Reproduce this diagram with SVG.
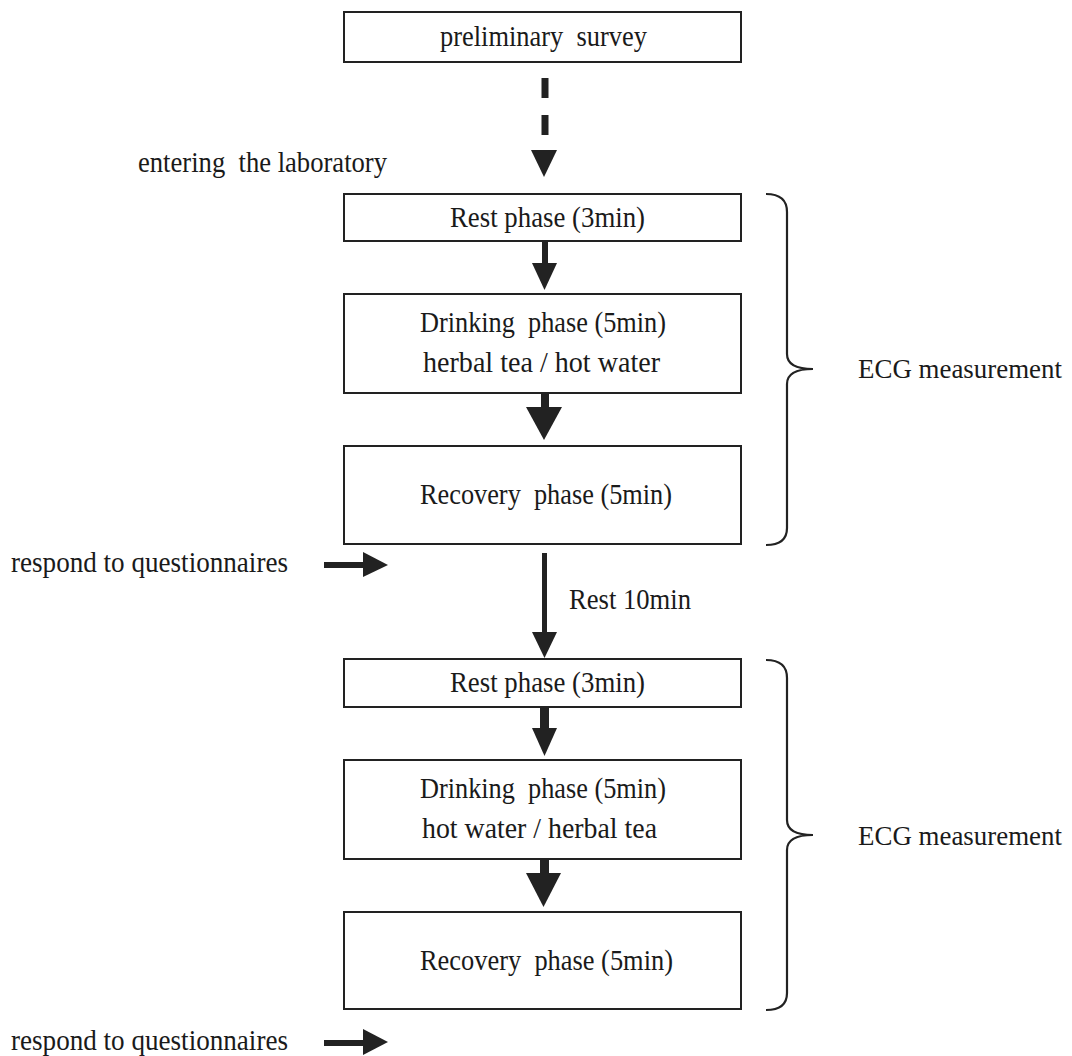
<svg xmlns="http://www.w3.org/2000/svg" width="1072" height="1056" viewBox="0 0 1072 1056">
<style>
.box{fill:#fff;stroke:#222;stroke-width:2}
.t{font-family:"Liberation Serif","Times New Roman",serif;font-size:29px;fill:#1a1a1a}
.e{font-size:27px}
.ar{fill:#222}
.br{fill:none;stroke:#222;stroke-width:2.2}
</style>
<rect width="1072" height="1056" fill="#fff"/>
<g id="n1"><rect class="box" x="344" y="12" width="397" height="50"/><text class="t" x="440" y="46" textLength="207" lengthAdjust="spacingAndGlyphs">preliminary&#160; survey</text></g>
<text class="t" x="138" y="172" textLength="249" lengthAdjust="spacingAndGlyphs">entering&#160; the laboratory</text>
<g id="n2"><rect class="box" x="344" y="194" width="397" height="47"/><text class="t" x="450" y="227" textLength="195" lengthAdjust="spacingAndGlyphs">Rest phase (3min)</text></g>
<g id="n3"><rect class="box" x="344" y="294" width="397" height="99"/><text class="t" x="420" y="332" textLength="246" lengthAdjust="spacingAndGlyphs">Drinking&#160; phase (5min)</text><text class="t" x="423" y="372" textLength="237" lengthAdjust="spacingAndGlyphs">herbal tea / hot water</text></g>
<g id="n4"><rect class="box" x="344" y="446" width="397" height="98"/><text class="t" x="420" y="504" textLength="252" lengthAdjust="spacingAndGlyphs">Recovery&#160; phase (5min)</text></g>
<g id="b1"><path class="br" d="M766,194 Q787,194 787,212 L787,354 Q787,369 813,369 Q787,369 787,384 L787,528 Q787,545 766,545"/><text class="t e" x="858" y="378" textLength="204" lengthAdjust="spacingAndGlyphs">ECG measurement</text></g>
<g id="q1"><text class="t" x="11" y="572" textLength="277" lengthAdjust="spacingAndGlyphs">respond to questionnaires</text></g>
<text class="t" x="569" y="609" textLength="122" lengthAdjust="spacingAndGlyphs">Rest 10min</text>
<g id="n5"><rect class="box" x="344" y="659" width="397" height="48"/><text class="t" x="450" y="692" textLength="195" lengthAdjust="spacingAndGlyphs">Rest phase (3min)</text></g>
<g id="n6"><rect class="box" x="344" y="760" width="397" height="99"/><text class="t" x="420" y="798" textLength="246" lengthAdjust="spacingAndGlyphs">Drinking&#160; phase (5min)</text><text class="t" x="422" y="838" textLength="235" lengthAdjust="spacingAndGlyphs">hot water / herbal tea</text></g>
<g id="n7"><rect class="box" x="344" y="912" width="397" height="97"/><text class="t" x="420" y="970" textLength="253" lengthAdjust="spacingAndGlyphs">Recovery&#160; phase (5min)</text></g>
<g id="b2"><path class="br" d="M766,660 Q787,660 787,678 L787,820 Q787,835 813,835 Q787,835 787,850 L787,993 Q787,1010 766,1010"/><text class="t e" x="858" y="845" textLength="204" lengthAdjust="spacingAndGlyphs">ECG measurement</text></g>
<g id="q2"><text class="t" x="11" y="1050" textLength="277" lengthAdjust="spacingAndGlyphs">respond to questionnaires</text></g>
<g id="connectors">
<rect class="ar" x="541.5" y="78" width="7" height="20"/>
<rect class="ar" x="541.5" y="115" width="7" height="20"/>
<polygon class="ar" points="531,150 557,150 544,177"/>
<rect class="ar" x="542" y="241" width="6" height="23"/>
<polygon class="ar" points="532,263 557,263 544.5,290"/>
<rect class="ar" x="541" y="393" width="8" height="15"/>
<polygon class="ar" points="526,407 562,407 544,440"/>
<rect class="ar" x="324" y="562" width="40" height="6"/>
<polygon class="ar" points="363,552 388,565 363,577"/>
<rect class="ar" x="542" y="553" width="5" height="80"/>
<polygon class="ar" points="532,632 557,632 544.5,658"/>
<rect class="ar" x="540" y="707" width="9" height="22"/>
<polygon class="ar" points="532,728 557,728 544.5,756"/>
<rect class="ar" x="540" y="859" width="9" height="15"/>
<polygon class="ar" points="526,873 561,873 543.5,907"/>
<rect class="ar" x="324" y="1040" width="40" height="6"/>
<polygon class="ar" points="363,1029 388,1042 363,1055"/>
</g>
</svg>
